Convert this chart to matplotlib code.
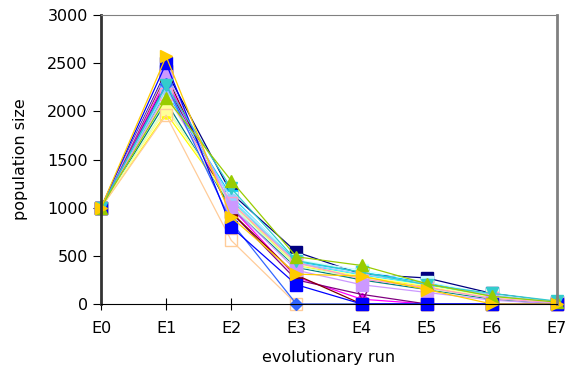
import matplotlib
matplotlib.use('Agg')
import matplotlib.pyplot as plt

runs = ['E0', 'E1', 'E2', 'E3', 'E4', 'E5', 'E6', 'E7']

# one list per population
navy = [1000, 2420, 1150, 540, 310, 270, 110, 20]
magenta = [1000, 2330, 1000, 280, 50, 0, 0, 0]
yellow = [1000, 1980, 1050, 400, 280, 180, 50, 0]
cyan = [1000, 2250, 1080, 420, 300, 200, 80, 10]
purple = [1000, 2300, 950, 250, 100, 0, 0, 0]
darkred = [1000, 2380, 950, 300, 0, 0, 0, 0]
teal = [1000, 2100, 1000, 380, 250, 150, 50, 0]
skyblue = [1000, 2200, 1120, 440, 330, 220, 90, 10]
lightcyan = [1000, 2150, 1100, 460, 350, 230, 100, 20]
lightgreen = [1000, 2050, 1030, 390, 270, 160, 60, 10]
lightyellow = [1000, 2020, 1060, 410, 290, 190, 70, 10]
paleblue = [1000, 2230, 1090, 430, 310, 210, 90, 20]
pink = [1000, 2180, 1050, 430, 260, 170, 60, 10]
lavender = [1000, 2400, 1010, 350, 200, 120, 40, 0]
peach = [1000, 1960, 660, 0, 0, 0, 0, 0]
royal = [1000, 2280, 850, 0, 0, 0, 0, 0]
blue = [1000, 2500, 800, 200, 0, 0, 0, 0]
aqua = [1000, 2270, 1200, 450, 330, 200, 110, 30]
ygreen = [1000, 2140, 1280, 490, 400, 210, 80, 20]
orange = [1000, 2570, 900, 310, 290, 150, 0, 0]

series = [
    (navy, '#000080', 's', True),
    (magenta, '#FF00FF', 'D', True),
    (yellow, '#FFFF00', 'o', True),
    (cyan, '#00FFFF', 'o', True),
    (purple, '#800080', 'v', False),
    (darkred, '#800000', 's', True),
    (teal, '#008080', 'o', False),
    (skyblue, '#00CCFF', 's', True),
    (lightcyan, '#CCFFFF', 's', True),
    (lightgreen, '#CCFFCC', 'o', True),
    (lightyellow, '#FFFF99', 's', True),
    (paleblue, '#99CCFF', 'o', True),
    (pink, '#FF99CC', 's', False),
    (lavender, '#CC99FF', 's', True),
    (peach, '#FFCC99', 's', False),
    (royal, '#3366FF', 'D', True),
    (blue, '#0000FF', 's', True),
    (aqua, '#33CCCC', 'v', True),
    (ygreen, '#99CC00', '^', True),
    (orange, '#FFCC00', '>', True),
]

fig = plt.figure(figsize=(5.72, 3.68), dpi=100)
ax = fig.add_axes([0.1766, 0.174, 0.797, 0.785])

x = list(range(len(runs)))
for vals, col, mk, filled in series:
    ax.plot(x, vals, color=col, lw=0.9, marker=mk, markersize=8 if mk != 'D' else 6,
            markerfacecolor=col if filled else 'none', markeredgecolor=col,
            markeredgewidth=1, clip_on=False)

ax.set_xlim(0, 7)
ax.set_ylim(0, 3000)
ax.set_xticks(x)
ax.set_xticklabels(runs)
ax.set_yticks(range(0, 3001, 500))
ax.tick_params(labelsize=11.5)
ax.tick_params(axis='x', direction='inout', length=8, pad=8)
ax.tick_params(axis='y', direction='out', length=6)
ax.set_xlabel('evolutionary run', fontsize=11.5, labelpad=10)
ax.set_ylabel('population size', fontsize=11.5, labelpad=14)

ax.spines['left'].set_color('#333333')
ax.spines['left'].set_linewidth(2)
ax.spines['bottom'].set_color('black')
ax.spines['top'].set_color('#808080')
ax.spines['right'].set_color('#808080')
ax.spines['right'].set_linewidth(2)

fig.savefig('out.png', dpi=100)
